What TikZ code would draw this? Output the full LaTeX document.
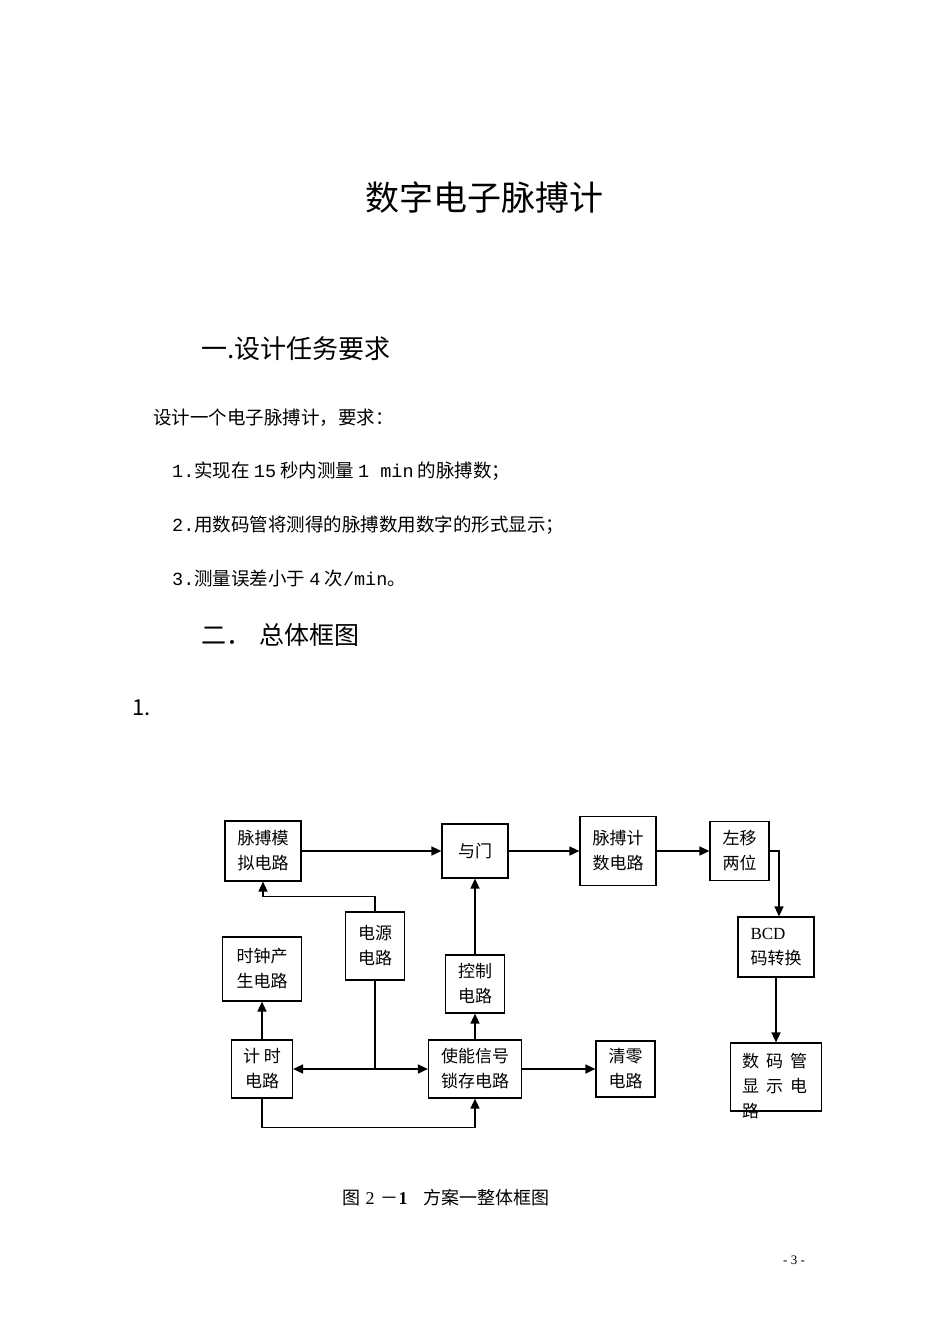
\documentclass[tikz,border=0pt]{standalone}
\usepackage{fontspec}
\setmainfont{Liberation Serif}
\newfontfamily\cjk{Noto Sans CJK SC}
\newfontfamily\mono{Liberation Mono}
\usetikzlibrary{arrows.meta}

\begin{document}
\begin{tikzpicture}[x=1pt,y=-1pt,
  blk/.style={draw, line width=1.2pt, align=center, inner sep=0pt,
    font=\cjk\fontsize{17}{25}\selectfont},
  wire/.style={line width=1.6pt, -{Triangle[length=10pt,width=9pt]}},
  txt/.style={anchor=west, inner sep=0pt, font=\cjk\fontsize{18.5}{20}\selectfont}]

\useasboundingbox (0,0) rectangle (950,1344);

% page text
\node[inner sep=0pt, font=\cjk\fontsize{34}{36}\selectfont] (title) at (484,198) {数字电子脉搏计};
\node[txt, font=\cjk\fontsize{26}{28}\selectfont] (sec1) at (201,349) {一.设计任务要求};
\node[txt] (intro) at (153,418) {设计一个电子脉搏计，要求：};
\node[txt] (req1) at (172,471) {{\mono 1.}实现在\hspace{4pt}{\mono 15}\hspace{4pt}秒内测量\hspace{4pt}{\mono 1 min}\hspace{4pt}的脉搏数；};
\node[txt] (req2) at (172,525) {{\mono 2.}用数码管将测得的脉搏数用数字的形式显示；};
\node[txt] (req3) at (172,578) {{\mono 3.}测量误差小于\hspace{4pt}{\mono 4}\hspace{4pt}次{\mono /min}。};
\node[txt, font=\cjk\fontsize{25}{28}\selectfont] (sec2) at (201,635) {二．\hspace{8pt}总体框图};
\node[txt, font=\cjk\fontsize{22}{26}\selectfont] (num1) at (132,708) {1.};

% blocks
\node[blk, minimum width=76pt, minimum height=60pt] (mnl) at (263,851) {脉搏模\\拟电路};
\node[blk, minimum width=66pt, minimum height=54pt] (ym) at (475,851) {与门};
\node[blk, minimum width=76pt, minimum height=69pt] (jsq) at (618,851) {脉搏计\\数电路};
\node[blk, minimum width=59pt, minimum height=59pt] (zy) at (739.5,851) {左移\\两位};
\node[blk, minimum width=76pt, minimum height=60pt, align=left] (bcd) at (776,947) {{\rmfamily BCD}\\码转换};
\node[draw, line width=1.2pt, minimum width=91pt, minimum height=68pt] (smg) at (776,1077) {};
\node[anchor=north west, inner sep=0pt, align=left,
  font=\cjk\fontsize{17}{25}\selectfont] (smgt) at (742,1053) {数\hspace{7pt}码\hspace{7pt}管\\显\hspace{7pt}示\hspace{7pt}电\\路};
\node[blk, minimum width=59pt, minimum height=68pt] (dy) at (375,946) {电源\\电路};
\node[blk, minimum width=79pt, minimum height=64pt] (sz) at (262,969) {时钟产\\生电路};
\node[blk, minimum width=59pt, minimum height=58pt] (kz) at (475,984) {控制\\电路};
\node[blk, minimum width=61pt, minimum height=58pt] (jsdl) at (262,1069) {计\hspace{4pt}时\\电路};
\node[blk, minimum width=93pt, minimum height=58pt] (sn) at (475,1069) {使能信号\\锁存电路};
\node[blk, minimum width=59pt, minimum height=56pt] (ql) at (625.5,1069) {清零\\电路};

\coordinate (jn) at (dy.south |- sn.west);

% connectors
\draw[wire] (mnl) -- (ym);
\draw[wire] (ym) -- (jsq);
\draw[wire] (jsq) -- (zy);
\draw[wire] (zy.east) -| ([xshift=3pt]bcd.north);
\draw[wire] (bcd) -- (smg);
\draw[wire] (dy.north) -- ++(0,-15) -| (mnl.south);
\draw[line width=1.6pt] (dy.south) -- (jn);
\draw[wire] (jn) -- (jsdl.east);
\draw[wire] (jn) -- (sn.west);
\draw[wire] (jsdl) -- (sz);
\draw[wire] (jsdl.south) -- ++(0,29) -| (sn.south);
\draw[wire] (sn) -- (kz);
\draw[wire] (kz) -- (ym);
\draw[wire] (sn) -- (ql);

% caption and page number
\node[inner sep=0pt, font=\cjk\fontsize{18}{20}\selectfont] (cap) at (446,1198)
  {图\hspace{5pt}{\rmfamily 2}\hspace{6pt}－{\rmfamily\bfseries 1}\hspace{16pt}方案一整体框图};
\node[inner sep=0pt, font=\rmfamily\fontsize{13}{15}\selectfont] (pg) at (794,1260) {- 3 -};

\end{tikzpicture}
\end{document}
